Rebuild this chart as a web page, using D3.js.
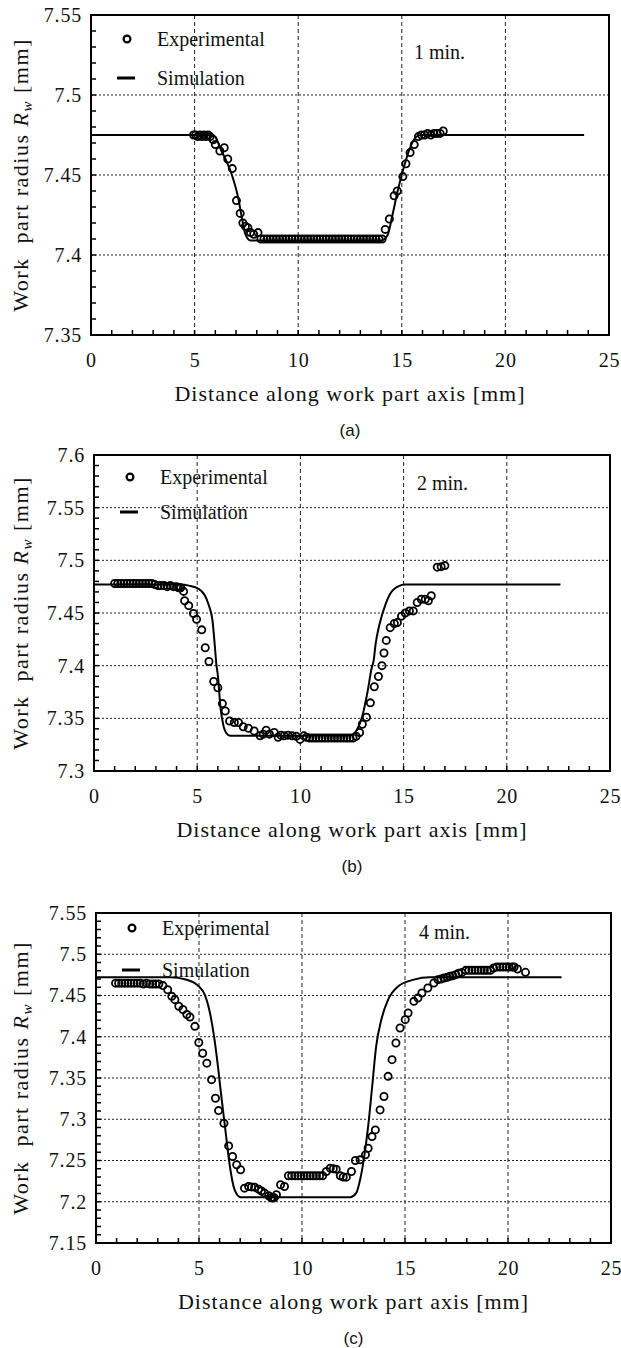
<!DOCTYPE html>
<html>
<head>
<meta charset="utf-8">
<script src="https://cdn.jsdelivr.net/npm/d3@7"></script>
<style>
  body { margin: 0; background: #fff; }
  .workspace { width: 621px; height: 1348px; }
  text { fill: #111; }
</style>
</head>
<body>
<div class="workspace"></div>
<script>
// x axis is the same on every panel
const xTicks = [0, 5, 10, 15, 20, 25];
const xTickLabels = ['0', '5', '10', '15', '20', '25'];

const yTicksA = [7.35, 7.4, 7.45, 7.5, 7.55];
const yTickLabelsA = ['7.35', '7.4', '7.45', '7.5', '7.55'];
const yTicksB = [7.3, 7.35, 7.4, 7.45, 7.5, 7.55, 7.6];
const yTickLabelsB = ['7.3', '7.35', '7.4', '7.45', '7.5', '7.55', '7.6'];
const yTicksC = [7.15, 7.2, 7.25, 7.3, 7.35, 7.4, 7.45, 7.5, 7.55];
const yTickLabelsC = ['7.15', '7.2', '7.25', '7.3', '7.35', '7.4', '7.45', '7.5', '7.55'];

const legendLabels = ['Experimental', 'Simulation'];
const timeLabels = ['1 min.', '2 min.', '4 min.'];
const captions = ['(a)', '(b)', '(c)'];

// (a) 1 min.
const expA = [
  [4.95, 7.475], [5.05, 7.475], [5.15, 7.474], [5.25, 7.475], [5.35, 7.474], [5.45, 7.475],
  [5.55, 7.474], [5.65, 7.475], [5.75, 7.474], [5.9, 7.472], [6.0, 7.469], [6.22, 7.465],
  [6.43, 7.467], [6.6, 7.46], [6.82, 7.454], [7.02, 7.434], [7.2, 7.426], [7.33, 7.42],
  [7.45, 7.418], [7.57, 7.417], [7.7, 7.414], [7.85, 7.413], [8.06, 7.414],
  [8.2, 7.41], [8.35, 7.41], [8.5, 7.41], [8.65, 7.41], [8.8, 7.41], [8.95, 7.41],
  [9.1, 7.41], [9.25, 7.41], [9.4, 7.41], [9.55, 7.41], [9.7, 7.41], [9.85, 7.41],
  [10.0, 7.41], [10.15, 7.41], [10.3, 7.41], [10.45, 7.41], [10.6, 7.41], [10.75, 7.41],
  [10.9, 7.41], [11.05, 7.41], [11.2, 7.41], [11.35, 7.41], [11.5, 7.41], [11.65, 7.41],
  [11.8, 7.41], [11.95, 7.41], [12.1, 7.41], [12.25, 7.41], [12.4, 7.41], [12.55, 7.41],
  [12.7, 7.41], [12.85, 7.41], [13.0, 7.41], [13.15, 7.41], [13.3, 7.41], [13.45, 7.41],
  [13.6, 7.41], [13.75, 7.41], [13.9, 7.41], [14.05, 7.41],
  [14.2, 7.416], [14.4, 7.4225], [14.63, 7.437], [14.78, 7.44], [15.05, 7.449], [15.2, 7.457],
  [15.4, 7.464], [15.6, 7.469], [15.8, 7.474], [15.95, 7.475], [16.1, 7.475], [16.25, 7.476],
  [16.4, 7.475], [16.55, 7.476], [16.7, 7.476], [16.85, 7.476], [17.0, 7.4775]
];
const simA = [
  [0, 7.475], [5.9, 7.475], [6.3, 7.465], [6.8, 7.45], [7.1, 7.436], [7.3, 7.422],
  [7.45, 7.413], [7.7, 7.409], [14.0, 7.409], [14.3, 7.412], [14.55, 7.425], [14.8, 7.44],
  [15.1, 7.455], [15.4, 7.467], [15.7, 7.474], [16.0, 7.475], [23.8, 7.475]
];

// (b) 2 min.
const expB = [
  [1.0, 7.478], [1.15, 7.478], [1.3, 7.478], [1.45, 7.478], [1.6, 7.478], [1.75, 7.478],
  [1.9, 7.478], [2.05, 7.478], [2.2, 7.478], [2.35, 7.478], [2.5, 7.478], [2.65, 7.478],
  [2.8, 7.478], [2.95, 7.477], [3.1, 7.476], [3.25, 7.476], [3.4, 7.476], [3.55, 7.475],
  [3.7, 7.476], [3.85, 7.475], [4.0, 7.475], [4.1, 7.474], [4.2, 7.474], [4.34, 7.4705],
  [4.39, 7.4616], [4.59, 7.457], [4.82, 7.4495], [4.97, 7.444], [5.22, 7.434], [5.39, 7.417],
  [5.57, 7.404], [5.8, 7.385], [6.0, 7.379], [6.22, 7.364], [6.36, 7.357], [6.57, 7.3475],
  [6.8, 7.346], [7.0, 7.346], [7.23, 7.342], [7.48, 7.3406], [7.76, 7.338], [8.05, 7.3334],
  [8.2, 7.335], [8.34, 7.3388], [8.5, 7.335], [8.73, 7.3366], [8.92, 7.332], [9.05, 7.334],
  [9.21, 7.3334], [9.4, 7.334], [9.6, 7.3334], [9.8, 7.333], [9.98, 7.330], [10.17, 7.3334],
  [10.3, 7.332], [10.45, 7.3313], [10.6, 7.3313], [10.75, 7.3313], [10.9, 7.3313],
  [11.05, 7.3313], [11.2, 7.3313], [11.35, 7.3313], [11.5, 7.3313], [11.65, 7.3313],
  [11.8, 7.3313], [11.95, 7.3313], [12.1, 7.3313], [12.25, 7.3313], [12.4, 7.3313],
  [12.55, 7.3313], [12.7, 7.333], [12.87, 7.3366], [13.0, 7.3444], [13.2, 7.351],
  [13.39, 7.3647], [13.58, 7.380], [13.78, 7.3897], [13.95, 7.40], [14.05, 7.412],
  [14.16, 7.424], [14.35, 7.4361], [14.55, 7.44], [14.7, 7.441], [14.9, 7.447], [15.08, 7.45],
  [15.28, 7.452], [15.47, 7.452], [15.66, 7.46], [15.86, 7.463], [16.05, 7.463], [16.2, 7.4616],
  [16.34, 7.4664], [16.63, 7.4935], [16.82, 7.494], [17.0, 7.495]
];
const simB = [
  [0, 7.477], [4.2, 7.477], [4.6, 7.476], [5.07, 7.473], [5.36, 7.467], [5.55, 7.458],
  [5.74, 7.443], [5.84, 7.422], [5.93, 7.401], [6.0, 7.391], [6.13, 7.36], [6.26, 7.344],
  [6.41, 7.336], [6.6, 7.3335], [12.4, 7.3335], [12.7, 7.338], [12.97, 7.35], [13.26, 7.376],
  [13.45, 7.3975], [13.55, 7.405], [13.64, 7.42], [13.83, 7.439], [14.12, 7.458], [14.5, 7.472],
  [15.09, 7.477], [22.6, 7.477]
];

// (c) 4 min.
const expC = [
  [0.95, 7.465], [1.1, 7.465], [1.25, 7.465], [1.4, 7.465], [1.55, 7.465], [1.7, 7.465],
  [1.85, 7.465], [2.0, 7.465], [2.15, 7.465], [2.3, 7.464], [2.45, 7.465], [2.6, 7.464],
  [2.75, 7.464], [2.9, 7.464], [3.05, 7.464], [3.25, 7.462], [3.48, 7.457], [3.68, 7.449],
  [3.83, 7.445], [4.02, 7.437], [4.22, 7.433], [4.41, 7.427], [4.56, 7.424], [4.8, 7.4126],
  [4.99, 7.393], [5.18, 7.380], [5.38, 7.368], [5.61, 7.348], [5.8, 7.3255], [5.95, 7.3105],
  [6.21, 7.2952], [6.44, 7.2677], [6.63, 7.2548], [6.83, 7.2448], [7.02, 7.2387], [7.21, 7.2165],
  [7.41, 7.2185], [7.55, 7.218], [7.7, 7.2177], [7.89, 7.2153], [8.03, 7.213], [8.18, 7.2105],
  [8.38, 7.2073], [8.5, 7.205], [8.57, 7.2044], [8.65, 7.205], [8.76, 7.2085], [8.96, 7.2206],
  [9.15, 7.2185], [9.34, 7.2315], [9.5, 7.2315], [9.65, 7.2315], [9.8, 7.2315], [9.95, 7.2315],
  [10.1, 7.2315], [10.25, 7.2315], [10.4, 7.2315], [10.55, 7.2315], [10.7, 7.2315],
  [10.85, 7.2315], [11.0, 7.2315], [11.18, 7.2367], [11.37, 7.2407], [11.52, 7.24],
  [11.66, 7.2395], [11.86, 7.2315], [12.0, 7.23], [12.15, 7.2298], [12.4, 7.2367], [12.59, 7.25],
  [12.82, 7.2508], [13.08, 7.2569], [13.21, 7.2649], [13.4, 7.279], [13.56, 7.2871],
  [13.79, 7.3113], [13.98, 7.3276], [14.18, 7.352], [14.37, 7.3722], [14.56, 7.3924],
  [14.76, 7.4106], [15.01, 7.4207], [15.15, 7.4288], [15.43, 7.4429], [15.63, 7.447],
  [15.82, 7.453], [16.11, 7.4591], [16.4, 7.4652], [16.6, 7.4692], [16.75, 7.47], [16.89, 7.4712],
  [17.05, 7.472], [17.18, 7.4732], [17.32, 7.474], [17.47, 7.4753], [17.6, 7.477], [17.76, 7.478],
  [17.95, 7.4805], [18.1, 7.4805], [18.25, 7.4805], [18.4, 7.4805], [18.55, 7.4805],
  [18.7, 7.4805], [18.85, 7.4805], [19.0, 7.4805], [19.15, 7.4805], [19.3, 7.4833],
  [19.45, 7.4845], [19.6, 7.4845], [19.75, 7.4845], [19.9, 7.4845], [20.05, 7.4845],
  [20.2, 7.4845], [20.3, 7.4845], [20.46, 7.4821], [20.85, 7.4781]
];
const simC = [
  [0, 7.472], [3.6, 7.472], [4.41, 7.469], [4.99, 7.461], [5.28, 7.451], [5.53, 7.429],
  [5.73, 7.4005], [5.92, 7.364], [6.05, 7.335], [6.17, 7.31], [6.3, 7.283], [6.5, 7.2427],
  [6.73, 7.2145], [7.02, 7.2056], [12.34, 7.2056], [12.63, 7.2105], [12.82, 7.2266],
  [13.02, 7.2548], [13.21, 7.291], [13.4, 7.338], [13.6, 7.3884], [13.85, 7.4207],
  [14.18, 7.445], [14.66, 7.461], [15.43, 7.4692], [16.2, 7.472], [22.6, 7.472]
];

// layout of the three stacked panels (pixels)
const panels = [
  { exp: expA, sim: simA, yDomain: [7.35, 7.55], yTicks: yTicksA, yTickLabels: yTickLabelsA,
    left: 91, right: 609, top: 15, bottom: 335, legendY: [39, 78], timeY: 52, caption: 0 },
  { exp: expB, sim: simB, yDomain: [7.3, 7.6], yTicks: yTicksB, yTickLabels: yTickLabelsB,
    left: 94, right: 610, top: 455, bottom: 771, legendY: [477, 512], timeY: 483, caption: 1 },
  { exp: expC, sim: simC, yDomain: [7.15, 7.55], yTicks: yTicksC, yTickLabels: yTickLabelsC,
    left: 96, right: 611, top: 913, bottom: 1243, legendY: [928, 970], timeY: 932, caption: 2 }
];

const serif = '"Liberation Serif", "DejaVu Serif", serif';

const svgDom = d3
  .select('.workspace')
  .append('svg')
  .attr('width', 621)
  .attr('height', 1348)
  .attr('viewBox', '0 0 621 1348');

svgDom.append('rect').attr('width', 621).attr('height', 1348).style('fill', '#fff');

function drawPanel(p, index) {
  const x = d3.scaleLinear().domain([0, 25]).range([p.left, p.right]);
  const y = d3.scaleLinear().domain(p.yDomain).range([p.bottom, p.top]);
  const g = svgDom.append('g');

  // dotted grid
  g.append('g')
    .selectAll('line')
    .data(p.yTicks.slice(1, -1))
    .enter()
    .append('line')
    .attr('x1', p.left)
    .attr('x2', p.right)
    .attr('y1', (d) => y(d))
    .attr('y2', (d) => y(d))
    .style('stroke', '#222')
    .style('stroke-width', 1)
    .style('stroke-dasharray', '2,2');
  g.append('g')
    .selectAll('line')
    .data(xTicks.slice(1, -1))
    .enter()
    .append('line')
    .attr('x1', (d) => x(d))
    .attr('x2', (d) => x(d))
    .attr('y1', p.top)
    .attr('y2', p.bottom)
    .style('stroke', '#222')
    .style('stroke-width', 1)
    .style('stroke-dasharray', '4,3');

  // minor ticks pointing inwards
  const xMinor = d3.range(1, 25, 1);
  const yStep = 0.01;
  const yMinor = d3.range(p.yDomain[0] + yStep, p.yDomain[1] - yStep / 2, yStep);
  g.append('g')
    .selectAll('line')
    .data(xMinor)
    .enter()
    .append('line')
    .attr('x1', (d) => x(d))
    .attr('x2', (d) => x(d))
    .attr('y1', p.bottom)
    .attr('y2', p.bottom - 5)
    .style('stroke', '#000')
    .style('stroke-width', 1.5);
  g.append('g')
    .selectAll('line')
    .data(yMinor)
    .enter()
    .append('line')
    .attr('x1', p.left)
    .attr('x2', p.left + 5)
    .attr('y1', (d) => y(d))
    .attr('y2', (d) => y(d))
    .style('stroke', '#000')
    .style('stroke-width', 1.5);

  // axes (labels only, border drawn below)
  const xAxis = g
    .append('g')
    .attr('transform', `translate(0,${p.bottom})`)
    .call(
      d3.axisBottom(x)
        .tickValues(xTicks)
        .tickFormat((d, i) => xTickLabels[i])
        .tickSizeInner(0)
        .tickSizeOuter(0)
        .tickPadding(18)
    );
  const yAxis = g
    .append('g')
    .attr('transform', `translate(${p.left},0)`)
    .call(
      d3.axisLeft(y)
        .tickValues(p.yTicks)
        .tickFormat((d, i) => p.yTickLabels[i])
        .tickSizeInner(0)
        .tickSizeOuter(0)
        .tickPadding(9)
    );
  [xAxis, yAxis].forEach((a) => {
    a.select('.domain').remove();
    a.selectAll('text')
      .style('font-family', serif)
      .style('font-size', '20px')
      .style('letter-spacing', '0.8px')
      .style('fill', '#111');
  });

  // frame
  g.append('rect')
    .attr('x', p.left)
    .attr('y', p.top)
    .attr('width', p.right - p.left)
    .attr('height', p.bottom - p.top)
    .style('fill', 'none')
    .style('stroke', '#000')
    .style('stroke-width', 2);

  // simulation curve
  const line = d3
    .line()
    .x((d) => x(d[0]))
    .y((d) => y(d[1]))
    .curve(d3.curveMonotoneX);
  g.append('path')
    .datum(p.sim)
    .attr('d', line)
    .style('fill', 'none')
    .style('stroke', '#000')
    .style('stroke-width', 2);

  // experimental points
  g.append('g')
    .selectAll('circle')
    .data(p.exp)
    .enter()
    .append('circle')
    .attr('cx', (d) => x(d[0]))
    .attr('cy', (d) => y(d[1]))
    .attr('r', 3.6)
    .style('fill', 'none')
    .style('stroke', '#000')
    .style('stroke-width', 1.8);

  // legend
  g.append('circle')
    .attr('cx', p.left + 36)
    .attr('cy', p.legendY[0])
    .attr('r', 3.4)
    .style('fill', '#fff')
    .style('stroke', '#000')
    .style('stroke-width', 2.2);
  g.append('line')
    .attr('x1', p.left + 26)
    .attr('x2', p.left + 44)
    .attr('y1', p.legendY[1])
    .attr('y2', p.legendY[1])
    .style('stroke', '#000')
    .style('stroke-width', 3);
  legendLabels.forEach((label, i) => {
    g.append('text')
      .attr('x', p.left + 66)
      .attr('y', p.legendY[i])
      .attr('dy', '0.35em')
      .style('font-family', serif)
      .style('font-size', '20px')
      .text(label);
  });
  g.append('text')
    .attr('x', p.left + 323)
    .attr('y', p.timeY)
    .attr('dy', '0.35em')
    .style('font-family', serif)
    .style('font-size', '20px')
    .text(timeLabels[index]);

  // axis titles
  g.append('text')
    .attr('x', (p.left + p.right) / 2)
    .attr('y', p.bottom + 58)
    .attr('dy', '0.35em')
    .attr('text-anchor', 'middle')
    .style('font-family', serif)
    .style('font-size', '22px')
    .style('letter-spacing', '1px')
    .text('Distance along work part axis [mm]');

  const yTitle = g
    .append('text')
    .attr('transform', `translate(20,${(p.top + p.bottom) / 2}) rotate(-90)`)
    .attr('dy', '0.35em')
    .attr('text-anchor', 'middle')
    .style('font-family', serif)
    .style('font-size', '22px')
    .style('letter-spacing', '1.5px')
    .style('white-space', 'pre');
  yTitle.append('tspan').text('Work  part radius ');
  yTitle.append('tspan').style('font-style', 'italic').text('R');
  yTitle.append('tspan').style('font-style', 'italic').style('font-size', '15px').attr('dy', '4').text('w');
  yTitle.append('tspan').attr('dy', '-4').text(' [mm]');

  g.append('text')
    .attr('x', (p.left + p.right) / 2)
    .attr('y', p.bottom + 95)
    .attr('dy', '0.35em')
    .attr('text-anchor', 'middle')
    .style('font-family', '"Liberation Sans", Arial, sans-serif')
    .style('font-size', '17px')
    .text(captions[p.caption]);
}

panels.forEach((p, i) => drawPanel(p, i));
</script>
</body>
</html>
